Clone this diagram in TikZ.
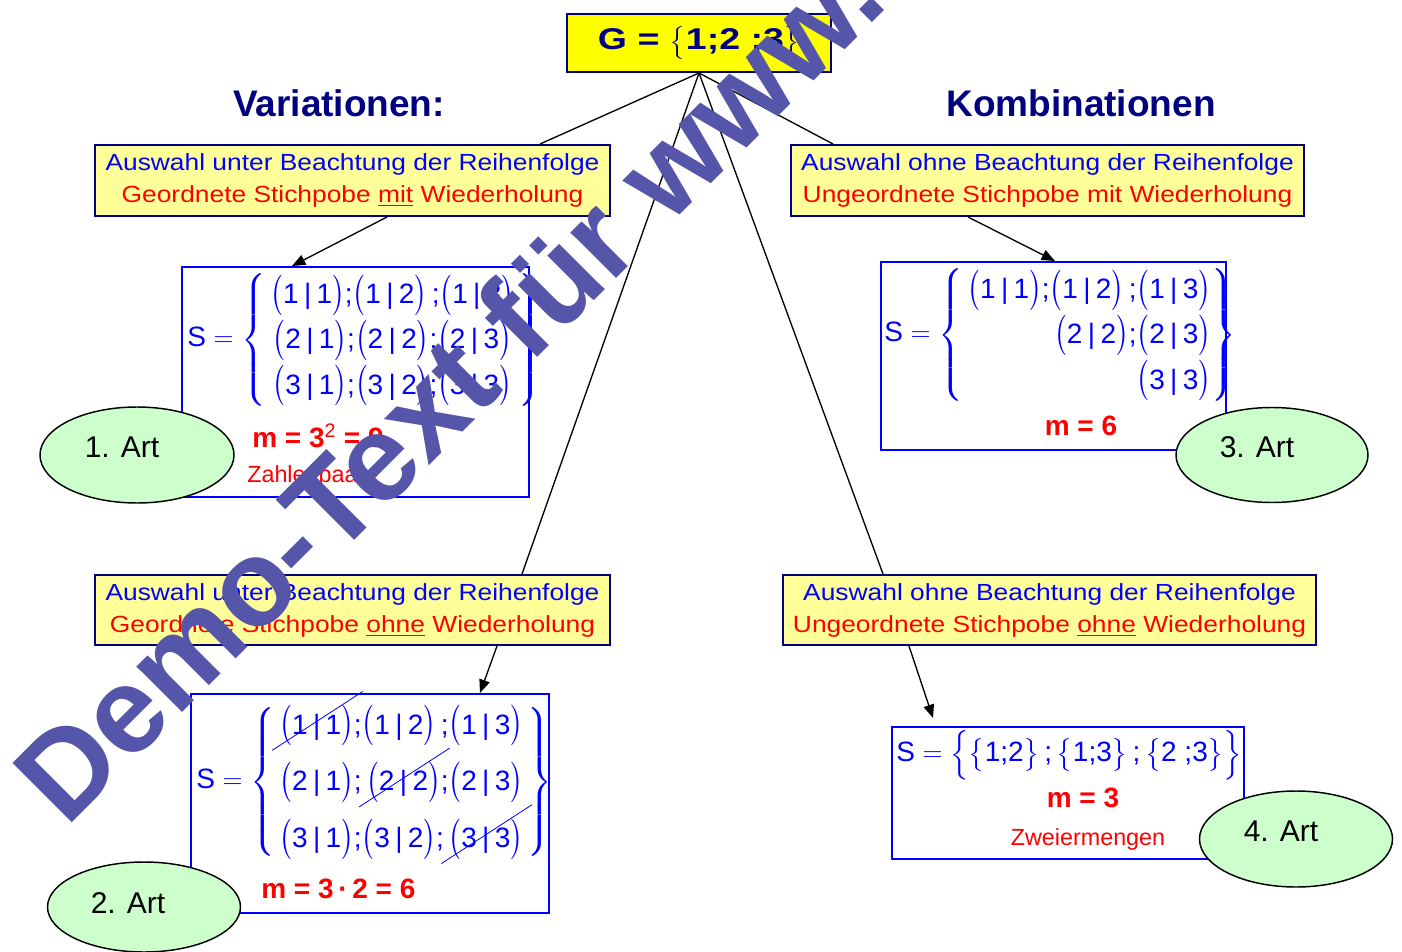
\documentclass[tikz,border=0pt]{standalone}
\usepackage{amsmath}
\usepackage{fontspec}
\setmainfont{Liberation Sans}
\newfontfamily\widefont{Liberation Sans}[FakeStretch=1.13]
\newfontfamily\gfont{Liberation Sans}[FakeStretch=1.25]
\usetikzlibrary{arrows.meta,shapes.geometric}
\definecolor{navy}{RGB}{0,0,128}
\definecolor{pblue}{RGB}{0,0,255}
\definecolor{pred}{RGB}{255,0,0}
\definecolor{lyellow}{RGB}{255,255,153}
\definecolor{gyellow}{RGB}{255,255,0}
\definecolor{lgreen}{RGB}{204,255,204}
\definecolor{wm}{RGB}{85,85,170}
\newsavebox\strkbox
\newcommand\lp{\mathopen{\scalebox{1}[1.22]{$\nulldelimiterspace=0pt\left(\vrule height 18pt depth 7pt width 0pt\right.$}}}
\newcommand\rp{\mathclose{\scalebox{1}[1.22]{$\nulldelimiterspace=0pt\left.\vrule height 18pt depth 7pt width 0pt\right)$}}}
\newcommand\pr[2]{\lp\text{#1}\mkern3.5mu\text{|}\mkern3.5mu\text{#2}\rp}
\newcommand\sm{\text{;}}
\newcommand\st[1]{\left\{\vrule height 17pt depth 6pt width 0pt\text{#1}\right\}}
\newcommand\strk[1]{\sbox\strkbox{$\displaystyle#1$}\rlap{\smash{\hspace{-0.1\wd\strkbox}\raisebox{-1.4\dp\strkbox}{\rotatebox{33}{\color{pblue}\rule{1.45\wd\strkbox}{0.6pt}}}}}\usebox\strkbox}
\tikzset{
 ybox/.style={draw=navy, line width=1.5pt, fill=lyellow, inner sep=0pt, align=center, font=\widefont\fontsize{17.5}{24}\selectfont},
 sbox/.style={draw=pblue, line width=1.5pt, fill=white, inner sep=0pt},
 art/.style={ellipse, draw=black, line width=1.1pt, fill=lgreen, inner sep=0pt},
 arttext/.style={font=\fontsize{22.5}{27}\selectfont, text=black, inner sep=0pt},
 conn/.style={line width=1pt, draw=black},
 arr/.style={conn, -{Triangle[length=10pt,width=8pt]}},
 mtext/.style={text=pblue, font=\fontsize{21}{25}\selectfont, inner sep=0pt},
 mres/.style={text=pred, font=\bfseries\fontsize{21}{25}\selectfont, inner sep=0pt},
 small/.style={text=pred, font=\fontsize{17.5}{21}\selectfont, inner sep=0pt},
 title/.style={text=navy, font=\bfseries\fontsize{27.75}{32}\selectfont, inner sep=0pt},
}
\begin{document}
\begin{tikzpicture}[x=0.75pt,y=-0.75pt]
\useasboundingbox (0,0) rectangle (1402,952);
% top node
\node[draw=navy, line width=1.5pt, fill=gyellow, minimum width=264*0.75pt, minimum height=58*0.75pt, inner sep=0pt, text=navy, font=\gfont\bfseries\fontsize{22.5}{27}\selectfont] (G) at (699,43) {G = $\left\{\vrule height 18pt depth 8pt width 0pt\text{1;2 ;3}\right\}$\hspace{12pt}};
% titles
\node[title] (tV) at (339,103) {Variationen:};
\node[title] (tK) at (1081,103) {Kombinationen};
% yellow boxes
\node[ybox, minimum width=515*0.75pt, minimum height=71*0.75pt] (A1) at (352.5,180.5) {{\color{pblue}Auswahl unter Beachtung der Reihenfolge}\\{\color{pred}Geordnete Stichpobe \underline{mit} Wiederholung}};
\node[ybox, minimum width=513*0.75pt, minimum height=71*0.75pt] (K1) at (1047.5,180.5) {{\color{pblue}Auswahl ohne Beachtung der Reihenfolge}\\{\color{pred}Ungeordnete Stichpobe mit Wiederholung}};
\node[ybox, minimum width=515*0.75pt, minimum height=70*0.75pt] (A2) at (352.5,610) {{\color{pblue}Auswahl unter Beachtung der Reihenfolge}\\{\color{pred}Geordnete Stichpobe \underline{ohne} Wiederholung}};
\node[ybox, minimum width=533*0.75pt, minimum height=70*0.75pt] (K2) at (1049.5,610) {{\color{pblue}Auswahl ohne Beachtung der Reihenfolge}\\{\color{pred}Ungeordnete Stichpobe \underline{ohne} Wiederholung}};
% connectors
\draw[conn] (G.south) -- (540,0 |- A1.north);
\draw[conn] (G.south) -- (833,0 |- K1.north);
\draw[conn] (G.south) -- (522,0 |- A2.north);
\draw[conn] (G.south) -- (883,0 |- K2.north);
% S boxes
\node[sbox, minimum width=347*0.75pt, minimum height=230*0.75pt] (SA1) at (355.5,382) {};
\node[sbox, minimum width=345*0.75pt, minimum height=188*0.75pt] (SK1) at (1053.5,356) {};
\node[sbox, minimum width=358*0.75pt, minimum height=219*0.75pt] (SA2) at (370,803.5) {};
\node[sbox, minimum width=352*0.75pt, minimum height=132*0.75pt] (SK2) at (1068,793) {};
% arrows
\draw[arr] (387,0 |- A1.south) -- (292,0 |- SA1.north);
\draw[arr] (968,0 |- K1.south) -- (1055,0 |- SK1.north);
\draw[arr] (497,0 |- A2.south) -- (480,0 |- SA2.north);
\draw[arr] (909,0 |- K2.south) -- (933,718);
% S contents
\node[mtext, anchor=west] (SA1m) at (187,340) {\renewcommand\arraystretch{1}$\text{S}=\left\{\begin{array}{@{\,}c@{\,}}\pr11\sm\pr12\,\sm\pr13\\[4.5pt] \pr21\sm\pr22\sm\pr23\\[4.5pt] \pr31\sm\pr32\sm\pr33\end{array}\right\}$};
\node[mres, anchor=west] (SA1r) at (252,436) {m = 3\textsuperscript{\mdseries 2} = 9};
\node[small, anchor=west] (SA1z) at (247,476) {Zahlenpaare};
\node[mtext, anchor=west] (SK1m) at (884,335) {\renewcommand\arraystretch{1}$\text{S}=\left\{\begin{array}{@{\,}r@{}}\pr11\sm\pr12\,\sm\pr13\\[4.5pt] \pr22\sm\pr23\\[4.5pt] \pr33\end{array}\right\}$};
\node[mres] (SK1r) at (1081,426) {m = 6};
\node[mtext, anchor=west] (SA2m) at (196,782) {\renewcommand\arraystretch{1}$\text{S}=\left\{\begin{array}{@{\,}c@{\,}}\strk{\pr11}\sm\pr12\,\sm\pr13\\[13pt] \pr21\sm\,\strk{\pr22}\sm\pr23\\[13pt] \pr31\sm\pr32\sm\,\strk{\pr33}\end{array}\right\}$};
\node[mres, anchor=west] (SA2r) at (261,889) {m = 3\,·\,2 = 6};
\node[mtext, anchor=west] (SK2m) at (896,755) {$\text{S}=\left\{\vrule height 20pt depth 9pt width 0pt\st{1;2}\sm\st{1;3}\sm\st{2 ;3}\right\}$};
\node[mres] (SK2r) at (1083,798) {m = 3};
\node[small] (SK2z) at (1088,839) {Zweiermengen};
% ellipses
\node[art, minimum width=194*0.75pt, minimum height=96*0.75pt] (E1) at (137,455) {};
\node[art, minimum width=192*0.75pt, minimum height=95*0.75pt] (E3) at (1272,455) {};
\node[art, minimum width=193*0.75pt, minimum height=90*0.75pt] (E2) at (144,907) {};
\node[art, minimum width=193*0.75pt, minimum height=96*0.75pt] (E4) at (1296,839) {};
\node[arttext] (E1t) at ([shift={(-15,-8)}]E1.center) {1. Art};
\node[arttext] (E3t) at ([shift={(-15,-8)}]E3.center) {3. Art};
\node[arttext] (E2t) at ([shift={(-16,-4)}]E2.center) {2. Art};
\node[arttext] (E4t) at ([shift={(-15,-8)}]E4.center) {4. Art};
% watermark
\begin{scope}
\clip (0,0) rectangle (1402,952);
\node[rotate=45, anchor=base west, inner sep=0pt, text=wm, font=\bfseries\fontsize{91.5}{92}\selectfont] (wmk) at (66,829) {Demo-Text für www.};
\end{scope}
\end{tikzpicture}
\end{document}
